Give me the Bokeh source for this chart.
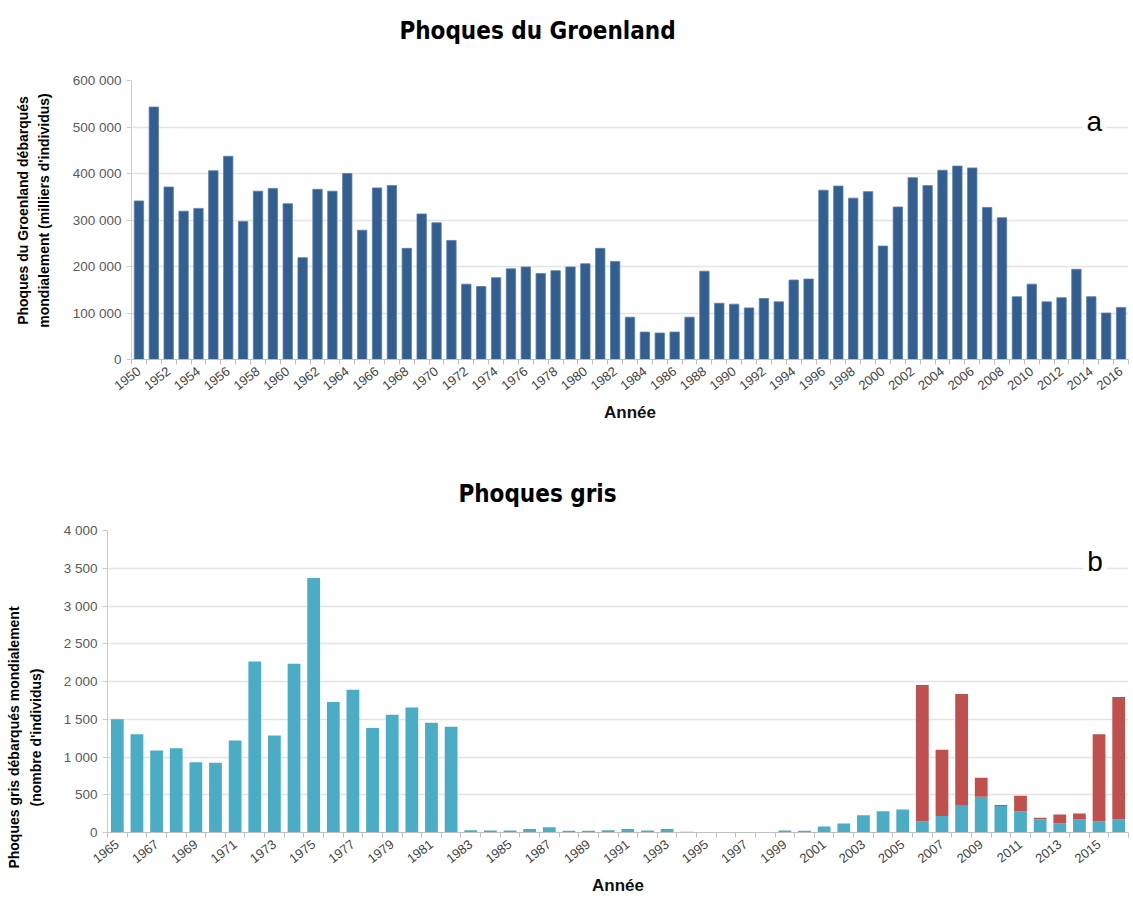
import math
from bokeh.plotting import figure
from bokeh.models import FixedTicker, Range1d, Label, ColumnDataSource
from bokeh.layouts import column, row
from bokeh.embed import file_html
from bokeh.resources import INLINE

# ---------------- data ----------------
harp_years = list(range(1950, 2017))
harp_values = [
    341000, 543000, 371000, 319000, 325000, 406000, 437000, 297000, 362000, 368000,
    335000, 219000, 366000, 362000, 400000, 278000, 369000, 374000, 239000, 313000,
    294000, 256000, 162000, 157000, 176000, 195000, 199000, 185000, 191000, 199000,
    206000, 239000, 211000, 91000, 59000, 57000, 59000, 91000, 190000, 121000,
    119000, 111000, 131000, 124000, 171000, 173000, 364000, 373000, 347000, 361000,
    244000, 328000, 391000, 374000, 407000, 416000, 412000, 327000, 305000, 135000,
    162000, 124000, 133000, 194000, 135000, 100000, 112000,
]
harp_tick_years = list(range(1950, 2017, 2))
harp_y_ticks = [0, 100000, 200000, 300000, 400000, 500000, 600000]
harp_y_labels = ["0", "100 000", "200 000", "300 000", "400 000", "500 000", "600 000"]

grey_years = list(range(1965, 2017))
grey_cyan = [
    1500, 1300, 1085, 1115, 930, 925, 1220, 2265, 1285, 2235,
    3370, 1730, 1890, 1385, 1560, 1655, 1455, 1400, 30, 27,
    27, 45, 70, 22, 22, 30, 45, 27, 45, 10,
    0, 0, 0, 0, 27, 22, 80, 120, 230, 283,
    305, 150, 217, 355, 473, 350, 283, 177, 120, 172,
    150, 172,
]
grey_red = [
    0, 0, 0, 0, 0, 0, 0, 0, 0, 0,
    0, 0, 0, 0, 0, 0, 0, 0, 0, 0,
    0, 0, 0, 0, 0, 0, 0, 0, 0, 0,
    0, 0, 0, 0, 0, 0, 0, 0, 0, 0,
    0, 1805, 880, 1480, 252, 13, 203, 17, 120, 80,
    1150, 1623,
]
grey_tick_years = list(range(1965, 2016, 2))
grey_y_ticks = [0, 500, 1000, 1500, 2000, 2500, 3000, 3500, 4000]
grey_y_labels = ["0", "500", "1 000", "1 500", "2 000", "2 500", "3 000", "3 500", "4 000"]

TICK_FONT = "Liberation Sans"
TITLE_FONT = "DejaVu Sans Condensed"
W, H = 1133, 899
SIDE = 60  # width of the strip holding the vertical axis titles


def text_panel(width, height):
    """A blank plot whose frame fills it; holds free text in pixel coordinates."""
    t = figure(width=width, height=height, output_backend="svg", toolbar_location=None,
               x_range=Range1d(0, width), y_range=Range1d(0, height),
               x_axis_type=None, y_axis_type=None, min_border=0)
    t.outline_line_color = None
    t.background_fill_color = "white"
    t.border_fill_color = "white"
    t.grid.visible = False
    return t


def put(p, x, y_from_top, s, size, height, bold=False, angle=0.0, font=TICK_FONT):
    p.add_layout(Label(x=x, y=height - y_from_top, text=s, angle=angle,
                       text_align="center", text_baseline="middle",
                       text_font=font, text_font_size=size,
                       text_font_style="bold" if bold else "normal",
                       text_color="black"))


def style(p, years, tick_years, y_ticks, y_labels):
    p.outline_line_color = None
    p.background_fill_color = "white"
    p.border_fill_color = "white"
    p.xgrid.visible = False
    p.ygrid.ticker = FixedTicker(ticks=y_ticks)
    p.ygrid.grid_line_color = "#e4e4e4"
    p.ygrid.grid_line_width = 1.5

    yax = p.yaxis[0]
    yax.ticker = FixedTicker(ticks=y_ticks)
    yax.major_label_overrides = {t: l for t, l in zip(y_ticks, y_labels)}
    yax.axis_line_color = "#cccccc"
    yax.major_tick_line_color = "#cccccc"
    yax.major_tick_out = 5
    yax.major_tick_in = 0
    yax.minor_tick_line_color = None
    yax.major_label_text_font = TICK_FONT
    yax.major_label_text_font_size = "13.5px"
    yax.major_label_text_color = "#5a5a5a"
    yax.major_label_standoff = 5

    xax = p.xaxis[0]
    bounds = [y - 0.5 for y in years] + [years[-1] + 0.5]
    xax.ticker = FixedTicker(ticks=tick_years, minor_ticks=bounds)
    xax.axis_line_color = "#bfbfbf"
    xax.major_tick_line_color = None
    xax.major_tick_out = 5
    xax.major_tick_in = 0
    xax.minor_tick_line_color = "#bfbfbf"
    xax.minor_tick_out = 5
    xax.minor_tick_in = 0
    xax.major_label_orientation = 0.66
    xax.major_label_text_font = TICK_FONT
    xax.major_label_text_font_size = "13px"
    xax.major_label_text_color = "#444444"
    xax.major_label_standoff = 5
    xax.axis_label = "Année"
    xax.axis_label_text_font = TICK_FONT
    xax.axis_label_text_font_style = "bold"
    xax.axis_label_text_font_size = "17px"
    xax.axis_label_text_color = "#111111"
    xax.axis_label_standoff = 6


CW = W - SIDE   # width of the chart column

# ---------------- vertical axis titles (page coordinates) ----------------
side = text_panel(SIDE, H)
put(side, 22, 210, "Phoques du Groenland débarqués", "14px", H, bold=True, angle=math.pi / 2)
put(side, 43, 210, "mondialement (milliers d'individus)", "14px", H, bold=True, angle=math.pi / 2)
put(side, 13, 737, "Phoques gris débarqués mondialement", "14px", H, bold=True, angle=math.pi / 2)
put(side, 35, 737, "(nombre d'individus)", "14px", H, bold=True, angle=math.pi / 2)

# ---------------- chart a ----------------
TOP1 = 60
H1 = 380
FRAME1_TOP, FRAME1_BOTTOM = 80, 359

title1 = text_panel(CW, TOP1)
put(title1, 537 - SIDE, 30, "Phoques du Groenland", "24px", TOP1, bold=True, font=TITLE_FONT)

p1 = figure(width=CW, height=H1, output_backend="svg", toolbar_location=None,
            x_range=Range1d(harp_years[0] - 0.5, harp_years[-1] + 0.5),
            y_range=Range1d(harp_y_ticks[0], harp_y_ticks[-1]),
            min_border_left=131 - SIDE, min_border_right=5,
            min_border_top=FRAME1_TOP - TOP1,
            min_border_bottom=TOP1 + H1 - FRAME1_BOTTOM)
src1 = ColumnDataSource(dict(x=harp_years, top=harp_values))
p1.vbar(x="x", top="top", width=0.63, source=src1, fill_color="#335e90",
        line_color="#5b7fab", line_width=0.8)
style(p1, harp_years, harp_tick_years, harp_y_ticks, harp_y_labels)
p1.add_layout(Label(x=2014.2, y=512000, text="a", text_align="center", text_baseline="middle",
                    text_font=TICK_FONT, text_font_size="28px", text_color="black",
                    background_fill_color="white", padding=(4, 22)))

# ---------------- chart b ----------------
Y0 = TOP1 + H1
TOP2 = 80
H2 = H - Y0 - TOP2
FRAME2_TOP, FRAME2_BOTTOM = 530, 832

title2 = text_panel(CW, TOP2)
put(title2, 537 - SIDE, 493 - Y0, "Phoques gris", "24px", TOP2, bold=True, font=TITLE_FONT)

p2 = figure(width=CW, height=H2, output_backend="svg", toolbar_location=None,
            x_range=Range1d(grey_years[0] - 0.5, grey_years[-1] + 0.5),
            y_range=Range1d(grey_y_ticks[0], grey_y_ticks[-1]),
            min_border_left=105 - SIDE, min_border_right=5,
            min_border_top=FRAME2_TOP - Y0 - TOP2,
            min_border_bottom=H - FRAME2_BOTTOM)
src2 = ColumnDataSource(dict(x=grey_years, cyan=grey_cyan, red=grey_red))
p2.vbar_stack(["cyan", "red"], x="x", width=0.65, source=src2,
              fill_color=["#4bacc6", "#c0504d"], line_color=None)
style(p2, grey_years, grey_tick_years, grey_y_ticks, grey_y_labels)
p2.add_layout(Label(x=2014.8, y=3590, text="b", text_align="center", text_baseline="middle",
                    text_font=TICK_FONT, text_font_size="28px", text_color="black",
                    background_fill_color="white", padding=(4, 22)))

layout = row(side, column(title1, row(p1), title2, row(p2)))
open("out.html", "w").write(file_html(layout, INLINE))
